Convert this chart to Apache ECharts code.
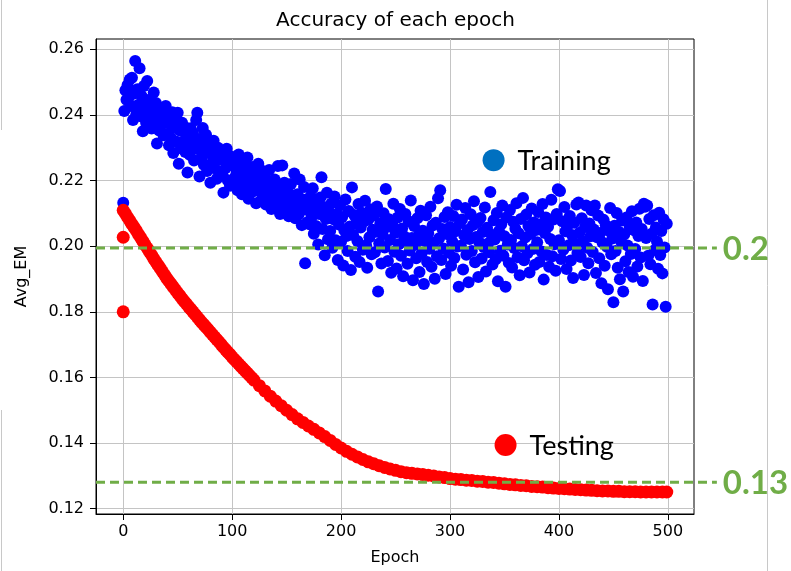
<!DOCTYPE html>
<html>
<head>
<meta charset="utf-8">
<script src="https://cdn.jsdelivr.net/npm/echarts@6/dist/echarts.min.js"></script>
<style>
  html, body { margin: 0; padding: 0; background: #fff; }
  #chart { width: 791px; height: 571px; }
</style>
</head>
<body>
<div id="chart"></div>
<script>
// training Avg_EM, one value per epoch (index = epoch)
var trainEM = [
  0.2132, 0.2412, 0.2475, 0.2446, 0.2491, 0.2453, 0.2508, 0.2427, 0.2513, 0.2384,
  0.2465, 0.2564, 0.2402, 0.2478, 0.2431, 0.2542, 0.2396, 0.2457, 0.2350, 0.2488,
  0.2421, 0.2376, 0.2503, 0.2445, 0.2392, 0.2437, 0.2358, 0.2412, 0.2468, 0.2381,
  0.2436, 0.2313, 0.2398, 0.2352, 0.2421, 0.2369, 0.2405, 0.2338, 0.2386, 0.2427,
  0.2341, 0.2395, 0.2307, 0.2372, 0.2329, 0.2408, 0.2284, 0.2361, 0.2390, 0.2318,
  0.2406, 0.2251, 0.2352, 0.2298, 0.2376, 0.2319, 0.2364, 0.2287, 0.2340, 0.2224,
  0.2331, 0.2278, 0.2359, 0.2302, 0.2345, 0.2261, 0.2318, 0.2384, 0.2406, 0.2295,
  0.2212, 0.2327, 0.2270, 0.2360, 0.2248, 0.2301, 0.2339, 0.2229, 0.2284, 0.2315,
  0.2193, 0.2298, 0.2256, 0.2321, 0.2237, 0.2279, 0.2205, 0.2300, 0.2264, 0.2226,
  0.2281, 0.2219, 0.2163, 0.2262, 0.2238, 0.2297, 0.2201, 0.2255, 0.2184, 0.2273,
  0.2246, 0.2187, 0.2264, 0.2212, 0.2231, 0.2170, 0.2279, 0.2203, 0.2248, 0.2158,
  0.2225, 0.2179, 0.2257, 0.2196, 0.2270, 0.2144, 0.2218, 0.2233, 0.2165, 0.2241,
  0.2189, 0.2236, 0.2131, 0.2204, 0.2251, 0.2168, 0.2215, 0.2142, 0.2229, 0.2183,
  0.2210, 0.2127, 0.2196, 0.2158, 0.2232, 0.2174, 0.2113, 0.2189, 0.2141, 0.2203,
  0.2166, 0.2121, 0.2244, 0.2185, 0.2098, 0.2152, 0.2246, 0.2137, 0.2193, 0.2109,
  0.2172, 0.2124, 0.2091, 0.2158, 0.2189, 0.2107, 0.2143, 0.2221, 0.2085, 0.2135,
  0.2158, 0.2096, 0.2203, 0.2119, 0.2064, 0.2142, 0.2180, 0.1948, 0.2111, 0.2073,
  0.2134, 0.2067, 0.2152, 0.2089, 0.2176, 0.2038, 0.2115, 0.2061, 0.2127, 0.2005,
  0.2098, 0.2148, 0.2210, 0.2052, 0.2119, 0.1972, 0.2083, 0.2163, 0.2021, 0.2104,
  0.2046, 0.2130, 0.1995, 0.2082, 0.2151, 0.2018, 0.2097, 0.1958, 0.2066, 0.2124,
  0.2013, 0.2089, 0.1941, 0.2048, 0.2142, 0.2031, 0.1985, 0.2107, 0.2060, 0.1927,
  0.2179, 0.2034, 0.2095, 0.1968, 0.2071, 0.2016, 0.2128, 0.1952, 0.2057, 0.2102,
  0.1989, 0.2075, 0.2138, 0.2003, 0.1934, 0.2081, 0.2027, 0.2112, 0.1975, 0.2050,
  0.2093, 0.1981, 0.2044, 0.2121, 0.1862, 0.2008, 0.2069, 0.1947, 0.2036, 0.2100,
  0.1996, 0.2174, 0.2058, 0.1955, 0.2082, 0.2019, 0.1919, 0.2065, 0.2129, 0.1983,
  0.2041, 0.1932, 0.2087, 0.2006, 0.2113, 0.1971, 0.2054, 0.1908, 0.2029, 0.2098,
  0.2012, 0.1946, 0.2076, 0.1987, 0.2139, 0.2025, 0.1896, 0.2061, 0.2004, 0.1963,
  0.2085, 0.2032, 0.1921, 0.2108, 0.1978, 0.2047, 0.1885, 0.2016, 0.2094, 0.1952,
  0.2039, 0.1992, 0.2120, 0.1937, 0.2063, 0.2010, 0.1901, 0.2071, 0.1969, 0.2146,
  0.2024, 0.2170, 0.1958, 0.2052, 0.1993, 0.2089, 0.1915, 0.2037, 0.2103, 0.1980,
  0.2058, 0.1940, 0.2015, 0.2092, 0.1964, 0.2045, 0.2126, 0.1999, 0.1876, 0.2070,
  0.2001, 0.2081, 0.1929, 0.2033, 0.2116, 0.1974, 0.2049, 0.1890, 0.2022, 0.2097,
  0.1985, 0.2064, 0.2137, 0.1951, 0.2028, 0.2073, 0.1906, 0.2011, 0.2086, 0.1962,
  0.2043, 0.1997, 0.2118, 0.1923, 0.2056, 0.2008, 0.1981, 0.2165, 0.2035, 0.1944,
  0.2079, 0.2020, 0.1960, 0.2101, 0.1893, 0.2046, 0.1986, 0.2067, 0.2124, 0.1971,
  0.2030, 0.1876, 0.2088, 0.2005, 0.1949, 0.2110, 0.2019, 0.1935, 0.2074, 0.1994,
  0.2053, 0.2131, 0.1966, 0.2039, 0.1911, 0.2083, 0.2000, 0.2147, 0.1957, 0.2026,
  0.2096, 0.1978, 0.2061, 0.1920, 0.2037, 0.2115, 0.1991, 0.2072, 0.1943, 0.2049,
  0.2012, 0.2104, 0.1952, 0.2067, 0.1984, 0.2128, 0.1898, 0.2040, 0.2087, 0.1973,
  0.2059, 0.1937, 0.2022, 0.2141, 0.1969, 0.2081, 0.2006, 0.1925, 0.2098, 0.2173,
  0.2018, 0.2168, 0.1961, 0.2076, 0.1989, 0.2119, 0.2045, 0.1930, 0.2063, 0.2003,
  0.2092, 0.1956, 0.2034, 0.1903, 0.2071, 0.2008, 0.2127, 0.1979, 0.2133, 0.2041,
  0.1967, 0.2085, 0.2014, 0.1912, 0.2058, 0.2124, 0.1995, 0.1948, 0.2069, 0.2030,
  0.2109, 0.1982, 0.2051, 0.2124, 0.1918, 0.2027, 0.2093, 0.1963, 0.2040, 0.1887,
  0.2011, 0.2080, 0.1940, 0.2064, 0.1998, 0.1869, 0.2047, 0.2116, 0.1975, 0.2023,
  0.1829, 0.2062, 0.1985, 0.2101, 0.1934, 0.2044, 0.1899, 0.2015, 0.2078, 0.1862,
  0.2036, 0.1954, 0.2087, 0.2002, 0.1921, 0.2059, 0.1976, 0.2106, 0.1907, 0.2048,
  0.1991, 0.2072, 0.1938, 0.2031, 0.2114, 0.1965, 0.2052, 0.1894, 0.2129, 0.2120,
  0.2025, 0.2124, 0.1971, 0.2083, 0.1945, 0.2038, 0.1822, 0.2094, 0.1988, 0.2057,
  0.2014, 0.1931, 0.2102, 0.1973, 0.2046, 0.1917, 0.2082, 0.1996, 0.1815, 0.2068
];

// testing Avg_EM read along the red band (every 2 epochs early, every 5 later)
var testEpochs = [
  0, 2, 4, 6, 8, 10, 12, 14, 16, 18, 20, 22, 24, 26, 28, 30, 32, 34, 36, 38,
  40, 42, 44, 46, 48, 50, 52, 54, 56, 58, 60, 62, 64, 66, 68, 70, 72, 74, 76, 78,
  80, 82, 84, 86, 88, 90, 92, 94, 96, 98, 100, 102, 104, 106, 108, 110, 112, 114, 116, 118, 120,
  125, 130, 135, 140, 145, 150, 155, 160, 165, 170, 175, 180, 185, 190, 195,
  200, 205, 210, 215, 220, 225, 230, 235, 240, 245, 250, 255, 260, 265, 270, 275, 280, 285, 290, 295,
  300, 305, 310, 315, 320, 325, 330, 335, 340, 345, 350, 355, 360, 365, 370, 375, 380, 385, 390, 395,
  400, 405, 410, 415, 420, 425, 430, 435, 440, 445, 450, 455, 460, 465, 470, 475, 480, 485, 490, 495, 499
];
var testEM = [
  0.2109, 0.2099, 0.2088, 0.2078, 0.2067, 0.2057, 0.2047, 0.2036, 0.2026, 0.2015,
  0.2004, 0.1994, 0.1983, 0.1973, 0.1962, 0.1952, 0.1942, 0.1932, 0.1922, 0.1912,
  0.1902, 0.1893, 0.1884, 0.1875, 0.1866, 0.1857, 0.1849, 0.1840, 0.1832, 0.1824,
  0.1816, 0.1808, 0.1800, 0.1792, 0.1784, 0.1776, 0.1768, 0.1761, 0.1753, 0.1746,
  0.1738, 0.1730, 0.1723, 0.1715, 0.1708, 0.1700, 0.1692, 0.1685, 0.1677, 0.1670,
  0.1662, 0.1655, 0.1648, 0.1641, 0.1634, 0.1627, 0.1620, 0.1613, 0.1606, 0.1599, 0.1592,
  0.1575, 0.1559, 0.1543, 0.1528, 0.1514, 0.1500, 0.1487, 0.1474, 0.1463, 0.1452,
  0.1442, 0.1431, 0.1420, 0.1408, 0.1396,
  0.1385, 0.1375, 0.1366, 0.1358, 0.1350, 0.1343, 0.1337, 0.1331, 0.1326, 0.1321,
  0.1317, 0.1313, 0.1310, 0.1308, 0.1306, 0.1304, 0.1302, 0.1300, 0.1297, 0.1295,
  0.1292, 0.1290, 0.1289, 0.1287, 0.1286, 0.1284, 0.1283, 0.1281, 0.1280, 0.1278,
  0.1276, 0.1274, 0.1273, 0.1271, 0.1270, 0.1268, 0.1267, 0.1266, 0.1264, 0.1263,
  0.1262, 0.1261, 0.1260, 0.1259, 0.1258, 0.1257, 0.1256, 0.1255, 0.1254, 0.1254,
  0.1253, 0.1253, 0.1252, 0.1252, 0.1252, 0.1251, 0.1251, 0.1251, 0.1251, 0.1251, 0.1251
];
// the two low testing points at epoch 0
var testStartEpochs = [0, 0];
var testStartEM = [0.2027, 0.1800];

var xTicks = [0, 100, 200, 300, 400, 500];
var yTicks = [0.12, 0.14, 0.16, 0.18, 0.20, 0.22, 0.24, 0.26];

// green reference lines drawn over the plot
var refValues = [0.1994, 0.1281];
var refLabels = ['0.2', '0.13'];

var chart = echarts.init(document.getElementById('chart'));

var trainData = trainEM.map(function (v, i) { return [i, v]; });
var testData = testStartEpochs.map(function (e, i) { return [e, testStartEM[i]]; });
testEpochs.forEach(function (e, i) { testData.push([e, testEM[i]]); });

var axisFont = 'DejaVu Sans';
var option = {
  animation: false,
  backgroundColor: '#fff',
  title: {
    text: 'Accuracy of each epoch',
    left: 'center',
    top: 6,
    textStyle: { fontFamily: axisFont, fontSize: 20, fontWeight: 'normal', color: '#000' }
  },
  grid: {
    left: 96, right: 97, top: 39, bottom: 56,
    show: true, borderColor: '#000', borderWidth: 1, backgroundColor: 'transparent'
  },
  xAxis: {
    type: 'value',
    min: -25, max: 524,
    name: 'Epoch',
    nameLocation: 'middle',
    nameGap: 36,
    nameTextStyle: { fontFamily: axisFont, fontSize: 16, color: '#000' },
    axisLine: { show: true, onZero: false, lineStyle: { color: '#000', width: 1 } },
    axisTick: { show: true, customValues: xTicks, length: 6, lineStyle: { color: '#000' } },
    axisLabel: { customValues: xTicks, margin: 10, fontFamily: axisFont, fontSize: 16, color: '#000' },
    splitLine: { show: true, lineStyle: { color: '#c4c4c4', width: 1 } }
  },
  yAxis: {
    type: 'value',
    min: 0.1184, max: 0.2631,
    name: 'Avg_EM',
    nameLocation: 'middle',
    nameGap: 66,
    nameTextStyle: { fontFamily: axisFont, fontSize: 16, color: '#000' },
    axisLine: { show: true, onZero: false, lineStyle: { color: '#000', width: 1 } },
    axisTick: { show: true, customValues: yTicks, length: 6, lineStyle: { color: '#000' } },
    axisLabel: {
      customValues: yTicks, margin: 12, fontFamily: axisFont, fontSize: 16, color: '#000',
      formatter: function (v) { return v.toFixed(2); }
    },
    splitLine: { show: true, lineStyle: { color: '#c4c4c4', width: 1 } }
  },
  series: [{
    name: 'Training',
    type: 'scatter',
    symbolSize: 12,
    itemStyle: { color: '#0000ff', opacity: 1 },
    data: trainData
  }, {
    name: 'Testing',
    type: 'scatter',
    symbolSize: 13,
    itemStyle: { color: '#ff0000', opacity: 1 },
    data: testData
  }]
};

chart.setOption(option);

// reference lines + slide annotations, placed through the chart's own scales
var graphics = [];
refValues.forEach(function (v, i) {
  var p0 = chart.convertToPixel({ gridIndex: 0 }, [-25, v]);
  var p1 = chart.convertToPixel({ gridIndex: 0 }, [545, v]);
  graphics.push({
    type: 'line', z: 50,
    shape: { x1: p0[0], y1: p0[1], x2: p1[0], y2: p1[1] },
    style: { stroke: '#70ad47', lineWidth: 3, lineDash: [9, 5] }
  });
  graphics.push({
    type: 'text', z: 50,
    x: p1[0] + 6, y: p1[1] + 1,
    style: {
      text: refLabels[i], fill: '#70ad47', font: 'bold 33px Lato',
      textAlign: 'left', textVerticalAlign: 'middle'
    }
  });
});

var notes = [
  { label: 'Training', color: '#0070c0', at: [340, 0.2262] },
  { label: 'Testing', color: '#ff0000', at: [351, 0.1394] }
];
notes.forEach(function (n) {
  var p = chart.convertToPixel({ gridIndex: 0 }, n.at);
  graphics.push({
    type: 'circle', z: 50,
    shape: { cx: p[0], cy: p[1], r: 11 },
    style: { fill: n.color }
  });
  graphics.push({
    type: 'text', z: 50,
    x: p[0] + 24, y: p[1] + 1,
    style: {
      text: n.label, fill: '#000', font: '27px Lato',
      textAlign: 'left', textVerticalAlign: 'middle'
    }
  });
});

// thin slide-edge rules of the screenshot
graphics.push({
  type: 'line', z: 1,
  shape: { x1: 767.5, y1: 0, x2: 767.5, y2: 571 },
  style: { stroke: '#c8c8c8', lineWidth: 1 }
});
graphics.push({
  type: 'line', z: 1,
  shape: { x1: 1.5, y1: 0, x2: 1.5, y2: 130 },
  style: { stroke: '#c8c8c8', lineWidth: 1 }
});
graphics.push({
  type: 'line', z: 1,
  shape: { x1: 1.5, y1: 410, x2: 1.5, y2: 571 },
  style: { stroke: '#c8c8c8', lineWidth: 1 }
});

chart.setOption({ graphic: graphics });
</script>
</body>
</html>
